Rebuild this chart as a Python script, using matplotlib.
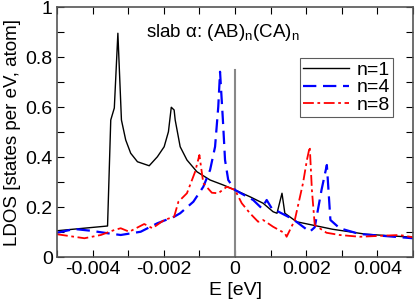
import numpy as np
import matplotlib.pyplot as plt

plt.rcParams['font.family'] = ['Liberation Sans', 'DejaVu Sans']
plt.rcParams['mathtext.fontset'] = 'custom'
plt.rcParams['mathtext.rm'] = 'Liberation Sans'
plt.rcParams['mathtext.it'] = 'Liberation Sans'

# n=1
e1 = [-0.005, -0.00358, -0.00349, -0.00339, -0.00329, -0.00319, -0.00307, -0.00293,
      -0.00274, -0.00241, -0.00218, -0.00199, -0.00187, -0.00179, -0.00171, -0.00168,
      -0.00154, -0.00135, -0.00107, -0.0007, -0.00033, 0.0, 0.00042, 0.00079, 0.00107,
      0.00118, 0.00132, 0.0014, 0.00173, 0.00274, 0.00368, 0.005]
d1 = [0.105, 0.124, 0.548, 0.596, 0.895, 0.548, 0.468, 0.415,
      0.381, 0.365, 0.401, 0.441, 0.501, 0.599, 0.588, 0.548,
      0.441, 0.388, 0.341, 0.308, 0.288, 0.268, 0.241, 0.215, 0.181,
      0.175, 0.255, 0.175, 0.141, 0.111, 0.091, 0.079]

# n=4
e4 = [-0.005, -0.00451, -0.00405, -0.00358, -0.00321, -0.00265, -0.00218, -0.00171,
      -0.00154, -0.00117, -0.00089, -0.0007, -0.00056, -0.00047, -0.00042, -0.00034,
      -0.00028, -0.00019, 0.0, 0.00051, 0.00075, 0.00089, 0.00103, 0.00117, 0.00163,
      0.0021, 0.00224, 0.00243, 0.00258, 0.00268, 0.00294, 0.0035, 0.005]
d4 = [0.097, 0.112, 0.105, 0.095, 0.088, 0.101, 0.135, 0.161,
      0.175, 0.221, 0.281, 0.348, 0.441, 0.601, 0.741, 0.548,
      0.388, 0.308, 0.268, 0.228, 0.195, 0.228, 0.195, 0.185, 0.151,
      0.101, 0.119, 0.268, 0.368, 0.148, 0.115, 0.092, 0.075]

# n=8
e8 = [-0.005, -0.00423, -0.00377, -0.00339, -0.00321, -0.00297, -0.00255, -0.00232,
      -0.00199, -0.00171, -0.00159, -0.00135, -0.00112, -0.001, -0.00089, -0.00065,
      -0.00047, -0.00023, 0.0, 0.00019, 0.00042, 0.00065, 0.00079, 0.00107, 0.0014,
      0.00145, 0.00168, 0.00191, 0.00202, 0.0021, 0.00216, 0.00224, 0.00257, 0.00294,
      0.0035, 0.00462, 0.005]
d8 = [0.091, 0.075, 0.088, 0.108, 0.115, 0.101, 0.132, 0.115,
      0.148, 0.161, 0.221, 0.255, 0.341, 0.408, 0.295, 0.257,
      0.255, 0.281, 0.268, 0.215, 0.175, 0.141, 0.148, 0.121, 0.095,
      0.081, 0.148, 0.295, 0.388, 0.441, 0.268, 0.128, 0.097, 0.088,
      0.081, 0.088, 0.079]

fig = plt.figure(figsize=(4.15, 2.99), dpi=100)
ax = fig.add_axes([57/415, 1 - 257/299, 356/415, 250/299])

ax.plot([0, 0], [0, 0.75], color='#888888', lw=1.5)
ax.plot(e1, d1, color='black', lw=1.0, label='n=1')
ax.plot(e4, d4, color='blue', lw=1.6, ls=(0, (6, 3)), label='n=4')
ax.plot(e8, d8, color='red', lw=1.3, ls=(0, (6, 2, 1.5, 2)), label='n=8')

ax.set_xlim(-0.005, 0.005)
ax.set_ylim(0, 1)
ax.set_xticks([-0.004, -0.002, 0, 0.002, 0.004])
ax.set_xticklabels(['-0.004', '-0.002', '0', '0.002', '0.004'])
ax.set_xticks(np.arange(-0.005, 0.0051, 0.001), minor=True)
ax.set_yticks([0, 0.2, 0.4, 0.6, 0.8, 1])
ax.set_yticklabels(['0', '0.2', '0.4', '0.6', '0.8', '1'])
ax.set_yticks(np.arange(0, 1.01, 0.1), minor=True)
ax.tick_params(which='both', direction='in', top=True, right=True, labelsize=14, width=0.8)
ax.tick_params(which='major', length=5, pad=3)
ax.tick_params(which='minor', length=5)
for s in ax.spines.values():
    s.set_linewidth(1.2)
    s.set_color('#555555')

ax.set_xlabel('E [eV]', fontsize=14, labelpad=3)
ax.set_ylabel('LDOS [states per eV, atom]', fontsize=13.5, labelpad=3)
ax.text(0.25, 0.88, r'slab $\alpha$: (AB)$_\mathrm{n}$(CA)$_\mathrm{n}$', transform=ax.transAxes,
        fontsize=13.5)

leg = ax.legend(loc='upper right', bbox_to_anchor=(0.945, 0.795), fontsize=14,
                frameon=True, fancybox=False, handlelength=2.4, handletextpad=0.4,
                borderpad=0.15, labelspacing=0.0, borderaxespad=0)
leg.get_frame().set_edgecolor('#333333')
leg.get_frame().set_linewidth(0.8)

fig.savefig('out.png', dpi=100)
